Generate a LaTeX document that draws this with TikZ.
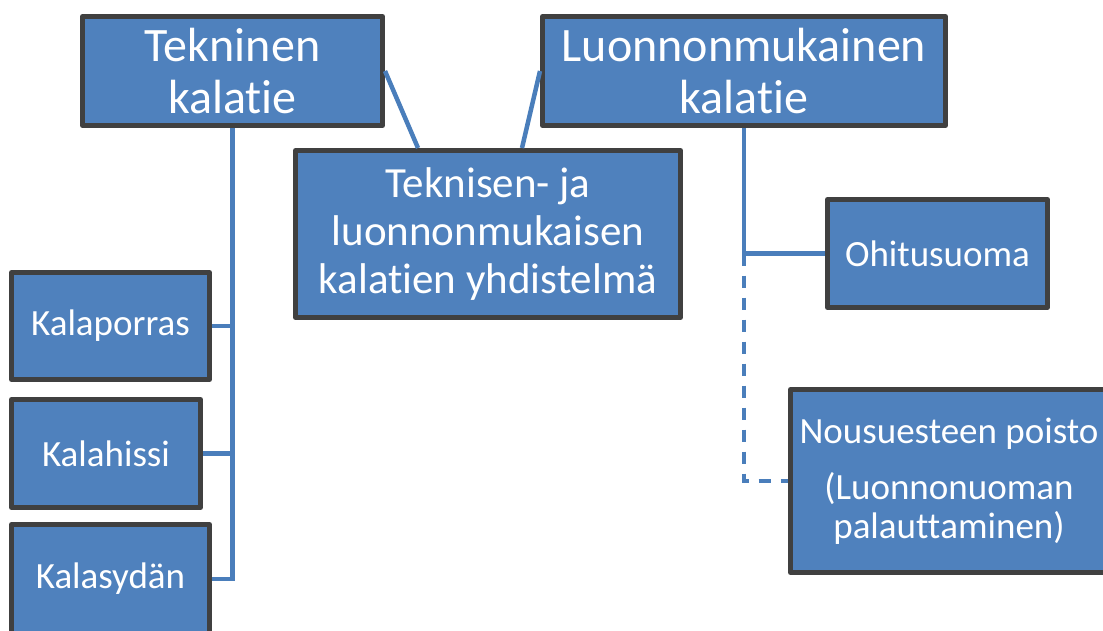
\documentclass[tikz,border=0pt]{standalone}
\usepackage{fontspec}
\setmainfont{Carlito}[Ligatures={NoCommon}]
\newcommand\nolig{\kern0pt{}}
\definecolor{boxfill}{RGB}{79,129,189}
\definecolor{boxline}{RGB}{64,64,64}
\definecolor{conn}{RGB}{74,126,187}
\begin{document}
\begin{tikzpicture}[x=1pt,y=-1pt,
  box/.style={draw=boxline, fill=boxfill, line width=5pt, line join=round,
    text=white, align=center, inner sep=0pt, rectangle},
  bigtxt/.style={font=\fontsize{48}{52}\selectfont},
  midtxt/.style={font=\fontsize{43}{48}\selectfont},
  smalltxt/.style={font=\fontsize{37}{39}\selectfont},
  link/.style={draw=conn, line width=4.5pt},
  dlink/.style={draw=conn, line width=3.5pt, dash pattern=on 12pt off 10pt}]
\useasboundingbox (0,0) rectangle (1103,630);
\node[box, bigtxt, minimum width=300pt, minimum height=109pt] (TK) at (232.5,71) {Tekninen\\kalat\nolig ie};
\node[box, bigtxt, minimum width=403pt, minimum height=109pt] (LK) at (744,71) {Luonnonmukainen\\kalat\nolig ie};
\node[box, midtxt, minimum width=385pt, minimum height=167pt] (TJ) at (488,234) {Teknisen- ja\\luonnonmukaisen\\kalat\nolig ien yhdistelmä};
\node[box, smalltxt, minimum width=198pt, minimum height=107pt] (KP) at (110.5,326) {Kalaporras};
\node[box, smalltxt, minimum width=189pt, minimum height=108pt] (KH) at (106,453.5) {Kalahissi};
\node[box, smalltxt, minimum width=198pt, minimum height=109pt] (KS) at (110.5,579) {Kalasydän};
\node[box, smalltxt, minimum width=220pt, minimum height=108pt] (OH) at (937.5,253.5) {Ohitusuoma};
\node[box, smalltxt, minimum width=317pt, minimum height=183pt] (NP) at (949,481) {Nousuesteen poisto\\[17pt](Luonnonuoman\\palautt\nolig aminen)};
\draw[link] (TK.south) -- (TK.south |- KS.east) -- (KS.east);
\draw[link] (TK.south |- KP.east) -- (KP.east);
\draw[link] (TK.south |- KH.east) -- (KH.east);
\draw[link] (TK.east) -- ([xshift=125pt]TJ.north west);
\draw[link] (LK.west) -- ([xshift=229pt]TJ.north west);
\draw[link] (LK.south) -- (LK.south |- OH.west) -- (OH.west);
\draw[dlink] (LK.south |- OH.west) -- (LK.south |- NP.west) -- (NP.west);
\end{tikzpicture}
\end{document}
